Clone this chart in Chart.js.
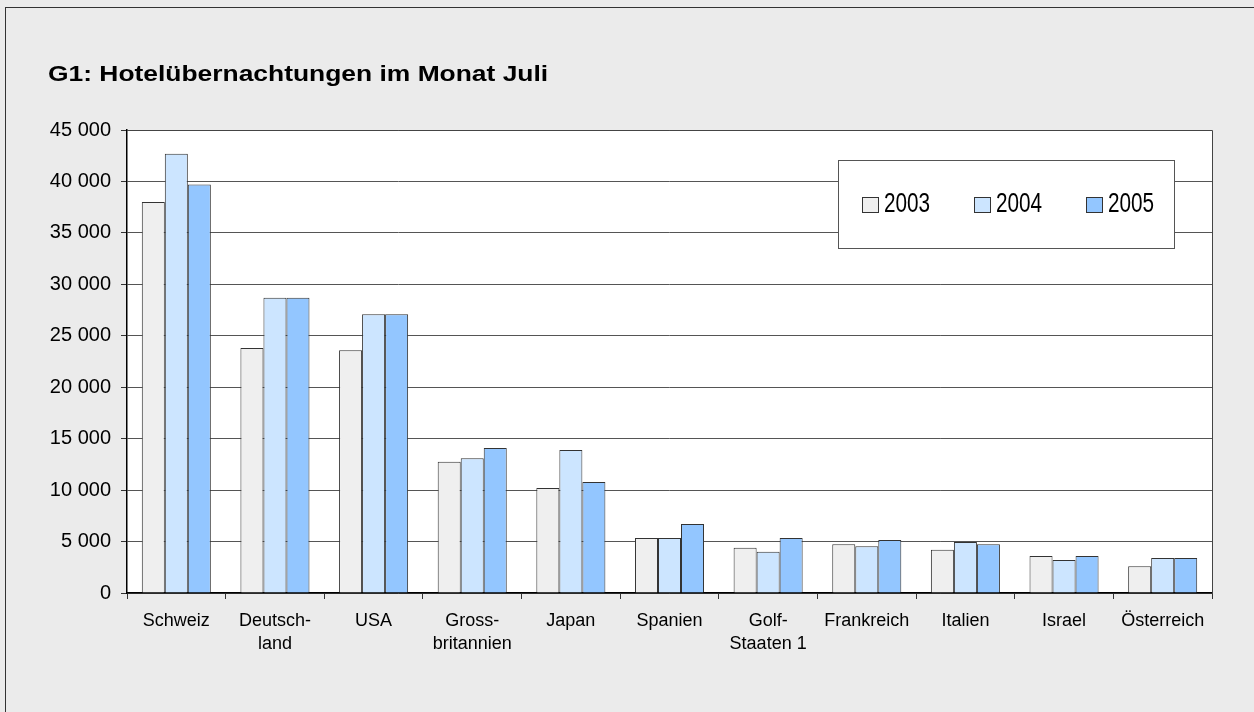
<!DOCTYPE html>
<html>
<head>
<meta charset="utf-8">
<script src="https://cdn.jsdelivr.net/npm/chart.js@4.4.1/dist/chart.umd.min.js"></script>
<style>
  html, body { margin: 0; padding: 0; background: #ebebeb; overflow: hidden; }
  .frame { position: absolute; left: 5px; top: 7px; width: 1400px; height: 900px; border: 1px solid #333; }
  canvas { position: absolute; left: 0; top: 0; }
</style>
</head>
<body>
<div class="frame"></div>
<canvas id="myChart" width="1254" height="712"></canvas>
<script>
const chartTitle = 'G1: Hotelübernachtungen im Monat Juli';
const categories = ['Schweiz', ['Deutsch-', 'land'], 'USA', ['Gross-', 'britannien'], 'Japan', 'Spanien',
  ['Golf-', 'Staaten 1'], 'Frankreich', 'Italien', 'Israel', 'Österreich'];
const years = ['2003', '2004', '2005'];
const values2003 = [38000, 23800, 23600, 12750, 10200, 5350, 4400, 4750, 4200, 3600, 2600];
const values2004 = [42700, 28700, 27100, 13100, 13900, 5350, 4000, 4550, 4950, 3200, 3400];
const values2005 = [39700, 28700, 27100, 14100, 10800, 6700, 5350, 5150, 4750, 3600, 3400];
const yMin = 0;
const yMax = 45000;
const yStep = 5000;

const fontFamily = '"Liberation Sans", Arial, sans-serif';

// 45000 -> "45 000"
const formatTick = (v) => String(v).replace(/\B(?=(\d{3})+(?!\d))/g, ' ');

// white plot area, right border, title and the boxed legend
const decorations = {
  id: 'decorations',
  beforeDraw(chart) {
    const { ctx, chartArea: a } = chart;
    ctx.save();
    ctx.fillStyle = '#ffffff';
    ctx.fillRect(a.left, a.top, a.right - a.left, a.bottom - a.top);
    ctx.restore();
  },
  afterDraw(chart) {
    const { ctx, chartArea: a } = chart;
    ctx.save();
    ctx.strokeStyle = '#444';
    ctx.lineWidth = 1;
    ctx.beginPath();
    ctx.moveTo(a.left, a.top + 0.5);
    ctx.lineTo(a.right + 0.5, a.top + 0.5);
    ctx.lineTo(a.right + 0.5, a.bottom);
    ctx.stroke();

    // title
    ctx.fillStyle = '#000';
    ctx.font = 'bold 22px ' + fontFamily;
    ctx.textBaseline = 'alphabetic';
    ctx.translate(48, 81);
    ctx.scale(1.2, 1);
    ctx.fillText(chartTitle, 0, 0);
    ctx.restore();

    // legend box
    const box = { x: 838, y: 160, w: 336, h: 88 };
    ctx.save();
    ctx.fillStyle = '#ffffff';
    ctx.fillRect(box.x, box.y, box.w, box.h);
    ctx.strokeStyle = '#555';
    ctx.strokeRect(box.x + 0.5, box.y + 0.5, box.w, box.h);
    chart.data.datasets.forEach((ds, i) => {
      const x = box.x + 24 + i * 112;
      ctx.fillStyle = ds.backgroundColor;
      ctx.fillRect(x, 197, 16, 15);
      ctx.strokeStyle = '#333';
      ctx.strokeRect(x + 0.5, 197.5, 16, 15);
      ctx.save();
      ctx.fillStyle = '#000';
      ctx.font = '28px ' + fontFamily;
      ctx.translate(x + 22, 212);
      ctx.scale(0.74, 1);
      ctx.fillText(ds.label, 0, 0);
      ctx.restore();
    });
    ctx.restore();
  }
};

const ctx = document.getElementById('myChart').getContext('2d');
const myChart = new Chart(ctx, {
  type: 'bar',
  data: {
    labels: categories,
    datasets: [
      { label: years[0], data: values2003, backgroundColor: '#efefef' },
      { label: years[1], data: values2004, backgroundColor: '#cce5ff' },
      { label: years[2], data: values2005, backgroundColor: '#93c6ff' }
    ].map(ds => Object.assign(ds, {
      borderColor: '#333',
      borderWidth: 1,
      categoryPercentage: 0.7,
      barPercentage: 1
    }))
  },
  options: {
    responsive: false,
    devicePixelRatio: 1,
    animation: false,
    layout: { padding: { left: 0, top: 130, right: 42, bottom: 0 } },
    plugins: {
      legend: { display: false },
      title: { display: false },
      tooltip: { enabled: false }
    },
    scales: {
      x: {
        afterFit(scale) { scale.height = 119; },
        grid: { offset: true, drawOnChartArea: false, drawTicks: true, tickLength: 6, tickColor: '#333' },
        border: { display: true, color: '#000', width: 1.5 },
        ticks: {
          color: '#000',
          font: { family: fontFamily, size: 18, lineHeight: 1.25 },
          padding: 11,
          maxRotation: 0,
          autoSkip: false
        }
      },
      y: {
        min: yMin,
        max: yMax,
        afterFit(scale) { scale.width = 127; },
        grid: { color: '#555', lineWidth: 1, tickLength: 6, tickColor: '#333' },
        border: { display: true, color: '#000', width: 1.5 },
        ticks: {
          stepSize: yStep,
          color: '#000',
          font: { family: fontFamily, size: 20 },
          padding: 10,
          callback: (v) => formatTick(v)
        }
      }
    }
  },
  plugins: [decorations]
});
</script>
</body>
</html>
